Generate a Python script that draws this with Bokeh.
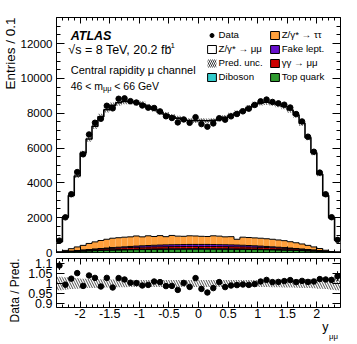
import math
import numpy as np
from bokeh.plotting import figure
from bokeh.models import (ColumnDataSource, FixedTicker, LinearAxis, Range1d, Label,
                          Legend, LegendItem, Grid, Title)
from bokeh.layouts import column
from bokeh.embed import file_html
from bokeh.resources import INLINE

FONT = "Liberation Sans"

# ---------------- data (48 bins of 0.1 in y_mumu, -2.4 .. 2.4) ----------------
bin_lo = -2.4
bin_hi = 2.4
n_bins = 48

data = [680, 2020, 3350, 4620, 5640, 6780, 7453, 7683, 8430, 8281,
        8832, 8854, 8695, 8617, 8445, 8321, 8302, 8106, 7827, 7726,
        7473, 7643, 7451, 7774, 7375, 7229, 7415, 7714, 7630, 7821,
        7956, 8109, 8262, 8475, 8686, 8785, 8650, 8568, 8491, 8329,
        7955, 7527, 6653, 5787, 4589, 3346, 2026, 726]
data_err = [14, 28, 38, 48, 56, 62, 66, 70, 72, 73,
            74, 74, 74, 74, 73, 73, 72, 71, 70, 70,
            69, 69, 69, 69, 69, 69, 69, 69, 70, 70,
            71, 72, 73, 73, 74, 74, 74, 74, 73, 72,
            70, 68, 64, 58, 52, 42, 30, 17]
zmumu = [594, 1912, 3051, 4072, 5299, 5999, 6640, 7110, 7440, 7630,
         7750, 7800, 7760, 7650, 7630, 7420, 7300, 7080, 7020, 6840,
         6780, 6690, 6620, 6620, 6650, 6650, 6630, 6720, 6870, 6990,
         7260, 7270, 7460, 7660, 7780, 7840, 7830, 7780, 7710, 7570,
         7340, 6940, 6190, 5410, 4260, 3150, 1935, 680]
ztautau = [14, 77, 144, 211, 269, 349, 410, 460, 504, 539,
           546, 554, 552, 582, 514, 559, 505, 542, 472, 534,
           490, 474, 497, 487, 467, 457, 504, 490, 454, 472,
           332, 465, 459, 454, 452, 442, 434, 416, 399, 364,
           330, 290, 239, 179, 121, 54, 12, 4]
fake = [1, 2, 5, 8, 12, 16, 21, 27, 33, 40, 47, 55, 63, 72, 80, 88, 95, 100, 105, 108, 110, 113, 115, 115,
        115, 115, 113, 110, 108, 105, 100, 95, 88, 80, 72, 63, 55, 47, 40, 33, 27, 21, 16, 12, 8, 5, 2, 1]
gamgam = [4, 10, 20, 30, 40, 50, 60, 70, 78, 86, 92, 98, 103, 108, 112, 115, 118, 122, 124, 126, 127, 128, 130, 130,
          130, 130, 128, 127, 126, 124, 122, 118, 115, 112, 108, 103, 98, 92, 86, 78, 70, 60, 50, 40, 30, 20, 10, 4]
diboson = [1, 3, 5, 7, 9, 11, 13, 15, 17, 18, 20, 21, 22, 23, 24, 25, 25, 26, 26, 27, 27, 27, 28, 28,
           28, 28, 27, 27, 27, 26, 26, 25, 25, 24, 23, 22, 21, 20, 18, 17, 15, 13, 11, 9, 7, 5, 3, 1]
topq = [10, 28, 46, 64, 80, 94, 106, 118, 128, 137, 145, 152, 160, 165, 170, 173, 177, 180, 183, 185, 186, 188, 190, 190,
        190, 190, 188, 186, 185, 183, 180, 177, 173, 170, 165, 160, 152, 145, 137, 128, 118, 106, 94, 80, 64, 46, 28, 10]
rel_unc = [0.034, 0.031, 0.028, 0.026, 0.024, 0.023, 0.022, 0.021, 0.020, 0.020, 0.019, 0.019,
           0.018, 0.018, 0.018, 0.018, 0.017, 0.017, 0.017, 0.017, 0.017, 0.017, 0.017, 0.017,
           0.017, 0.017, 0.017, 0.017, 0.017, 0.017, 0.017, 0.017, 0.018, 0.018, 0.018, 0.018,
           0.019, 0.019, 0.020, 0.020, 0.021, 0.022, 0.023, 0.024, 0.026, 0.028, 0.031, 0.034]

x_major = [-2, -1.5, -1, -0.5, 0, 0.5, 1, 1.5, 2]
x_major_labels = ["-2", "-1.5", "-1", "-0.5", "0", "0.5", "1", "1.5", "2"]
y_major = [0, 2000, 4000, 6000, 8000, 10000, 12000]
r_major = [0.9, 0.95, 1.0, 1.05, 1.1]
r_major_labels = ["0.9", "0.95", "1", "1.05", "1.1"]

# ---------------- derived ----------------
edges = np.linspace(bin_lo, bin_hi, n_bins + 1)
centers = 0.5 * (edges[:-1] + edges[1:])
layers = [np.array(topq, float), np.array(diboson, float), np.array(gamgam, float),
          np.array(fake, float), np.array(ztautau, float), np.array(zmumu, float)]
colors = ["#2f9a2f", "#33cccc", "#cc0000", "#6610cc", "#ffa03c", "white"]
cum = np.cumsum(layers, axis=0)
pred = cum[-1]
d = np.array(data, float)
de = np.array(data_err, float)
u = np.array(rel_unc, float)
ratio = d / pred
ratio_err = de / pred

x_minor = [round(v, 2) for v in np.arange(-2.4, 2.401, 0.1)]
y_minor = list(range(0, 13501, 500))


def labeled_axis(p, side, major, minor, tick_in, minor_in, size, standoff, overrides=None):
    ax = LinearAxis(ticker=FixedTicker(ticks=list(major), minor_ticks=list(minor)))
    ax.major_tick_in = tick_in
    ax.major_tick_out = 0
    ax.minor_tick_in = minor_in
    ax.minor_tick_out = 0
    ax.axis_line_color = None
    ax.major_tick_line_color = "black"
    ax.minor_tick_line_color = "black"
    ax.major_label_text_font = FONT
    ax.major_label_text_font_size = size
    ax.major_label_text_color = "black"
    ax.major_label_standoff = standoff
    if overrides:
        ax.major_label_overrides = overrides
    p.add_layout(ax, side)


def tick_axes(p, side, major, minor, major_len, minor_len):
    # label-free tick marks: drawn as "minor" ticks of axes that have no major ticks
    for ticks, ln in ((minor, minor_len), (major, major_len)):
        ax = LinearAxis(ticker=FixedTicker(ticks=[], minor_ticks=list(ticks)))
        ax.minor_tick_in = ln
        ax.minor_tick_out = 0
        ax.major_tick_in = 0
        ax.major_tick_out = 0
        ax.axis_line_color = None
        ax.minor_tick_line_color = "black"
        ax.major_label_standoff = 0
        p.add_layout(ax, side)


def lab(p, x, y, text, size, style="normal"):
    p.add_layout(Label(x=x, y=y, text=text, text_font=FONT, text_font_size=size,
                       text_font_style=style, text_align="left", text_baseline="alphabetic",
                       text_color="black"))


def side_title(p, side, text, size, align, standoff=0, offset=0):
    p.add_layout(Title(text=text, align=align, text_font=FONT, text_font_size=size,
                       text_font_style="normal", text_color="black", standoff=standoff,
                       offset=offset), side)


def style(p):
    for g in p.select(type=Grid):
        g.visible = False
    p.outline_line_color = "black"
    p.outline_line_width = 1
    p.background_fill_color = "white"
    p.border_fill_color = "white"


# ---------------- main panel ----------------
xr = Range1d(bin_lo, bin_hi)
p1 = figure(width=348, height=257, x_range=xr, y_range=Range1d(0, 13500),
            x_axis_location=None, y_axis_location=None, output_backend="svg",
            toolbar_location=None, min_border_left=54, min_border_right=8,
            min_border_top=17, min_border_bottom=5)
style(p1)
labeled_axis(p1, "left", y_major, y_minor, 8, 4, "11.5px", 4)
side_title(p1, "left", "Entries / 0.1", "13.5px", "right", standoff=0)
tick_axes(p1, "right", y_major, y_minor, 8, 4)
tick_axes(p1, "below", x_major, x_minor, 6, 3)
tick_axes(p1, "above", x_major, x_minor, 6, 3)

layer_src = []
for k in range(len(layers)):
    bottom = cum[k - 1] if k > 0 else np.zeros(n_bins)
    src = ColumnDataSource(dict(left=edges[:-1], right=edges[1:], bottom=bottom, top=cum[k]))
    layer_src.append(src)
    if k == 0:
        p1.quad(left="left", right="right", bottom="bottom", top="top", source=src,
                fill_color=colors[k], line_color="black", line_width=0.6)
    else:
        p1.quad(left="left", right="right", bottom="bottom", top="top", source=src,
                fill_color=colors[k], line_color=None)
for k in range(len(layers)):
    p1.step(x=edges, y=np.append(cum[k], cum[k][-1]), mode="after", line_color="black",
            line_width=1.6 if k == len(layers) - 1 else 1.0)

band = ColumnDataSource(dict(left=edges[:-1], right=edges[1:], bottom=pred * (1 - u), top=pred * (1 + u)))
p1.quad(left="left", right="right", bottom="bottom", top="top", source=band,
        fill_alpha=0, line_color=None, hatch_pattern="\\", hatch_color="black",
        hatch_scale=5, hatch_weight=0.7)

dsrc = ColumnDataSource(dict(x=centers, y=d, lo=d - de, hi=d + de))
p1.segment(x0="x", y0="lo", x1="x", y1="hi", source=dsrc, line_color="black", line_width=1)
r_data = p1.scatter(x="x", y="y", source=dsrc, size=5.5, marker="circle",
                    fill_color="black", line_color="black")


# hidden proxies, used only to draw outlined legend boxes
def proxy(src, fill, line="black", **kw):
    return p1.quad(left="left", right="right", bottom="bottom", top="top", source=src,
                   fill_color=fill, line_color=line, line_width=1, visible=False, **kw)


d_zmm = proxy(layer_src[5], "white")
d_unc = proxy(band, None, line=None, fill_alpha=0, hatch_pattern="\\", hatch_color="black",
              hatch_scale=4, hatch_weight=0.8)
d_dib = proxy(layer_src[1], colors[1])
d_ztt = proxy(layer_src[4], colors[4])
d_fak = proxy(layer_src[3], colors[3])
d_gg = proxy(layer_src[2], colors[2])
d_top = proxy(layer_src[0], colors[0])

leg_kw = dict(orientation="vertical", glyph_width=11, glyph_height=10, label_height=10,
              label_standoff=2, spacing=3, padding=0, margin=0, border_line_color=None,
              background_fill_alpha=0, label_text_font=FONT, label_text_font_size="9.7px",
              label_text_color="black")
leg1 = Legend(items=[LegendItem(label="Data", renderers=[r_data]),
                     LegendItem(label="Z/γ* → μμ", renderers=[d_zmm]),
                     LegendItem(label="Pred. unc.", renderers=[d_unc]),
                     LegendItem(label="Diboson", renderers=[d_dib])],
              location=(149.5, 170), **leg_kw)
leg2 = Legend(items=[LegendItem(label="Z/γ* → ττ", renderers=[d_ztt]),
                     LegendItem(label="Fake lept.", renderers=[d_fak]),
                     LegendItem(label="γγ → μμ", renderers=[d_gg]),
                     LegendItem(label="Top quark", renderers=[d_top])],
              location=(212.7, 170), **leg_kw)
p1.add_layout(leg1)
p1.add_layout(leg2)

lab(p1, -2.16, 12409, "ATLAS", "12.5px", style="bold italic")
lab(p1, -2.20, 11645, "√s = 8 TeV, 20.2 fb", "12.5px")
lab(p1, -0.52, 11863, "-1", "8px")
lab(p1, -2.16, 10456, "Central rapidity μ channel", "11px")
lab(p1, -2.16, 9565, "46 < m", "10.5px")
lab(p1, -1.616, 9421, "μμ", "7.5px")
lab(p1, -1.423, 9565, "< 66 GeV", "10.5px")

# ---------------- ratio panel ----------------
p2 = figure(width=348, height=85, x_range=xr, y_range=Range1d(0.88, 1.125),
            x_axis_location=None, y_axis_location=None, output_backend="svg",
            toolbar_location=None, min_border_left=54, min_border_right=8,
            min_border_top=1, min_border_bottom=35)
style(p2)
labeled_axis(p2, "left", r_major, [], 8, 4, "12.5px", 4,
             overrides={v: s for v, s in zip(r_major, r_major_labels)})
side_title(p2, "left", "Data / Pred.", "12px", "right", standoff=8)
tick_axes(p2, "right", r_major, [], 8, 4)
labeled_axis(p2, "below", x_major, x_minor, 6, 3, "12.5px", 1,
             overrides={v: s for v, s in zip(x_major, x_major_labels)})
side_title(p2, "below", "y", "12.5px", "right", standoff=-5, offset=12)
side_title(p2, "below", "μμ", "7.8px", "right", standoff=-4, offset=2.5)
tick_axes(p2, "above", x_major, x_minor, 6, 3)

rband = ColumnDataSource(dict(left=edges[:-1], right=edges[1:], bottom=1 - u, top=1 + u))
p2.quad(left="left", right="right", bottom="bottom", top="top", source=rband,
        fill_alpha=0, line_color=None, hatch_pattern="\\", hatch_color="black",
        hatch_scale=5, hatch_weight=0.7)
rsrc = ColumnDataSource(dict(x=centers, y=ratio, lo=ratio - ratio_err, hi=ratio + ratio_err))
p2.segment(x0="x", y0="lo", x1="x", y1="hi", source=rsrc, line_color="black", line_width=1)
p2.scatter(x="x", y="y", source=rsrc, size=5.5, marker="circle", fill_color="black", line_color="black")

layout = column(p1, p2, spacing=0)
open("out.html", "w").write(file_html(layout, INLINE))
